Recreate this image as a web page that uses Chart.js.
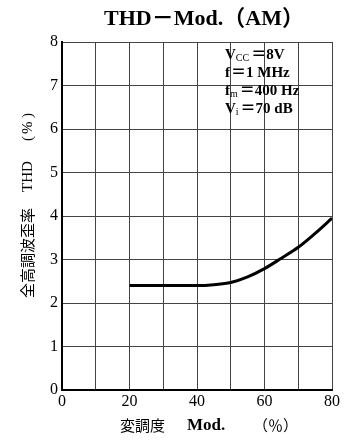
<!DOCTYPE html>
<html>
<head>
<meta charset="utf-8">
<script src="https://cdn.jsdelivr.net/npm/chart.js@4"></script>
<style>
  html, body { margin: 0; padding: 0; background: #fff; }
  #wrap { width: 353px; height: 440px; }
</style>
</head>
<body>
<div id="wrap"><canvas id="thdChart" width="353" height="440"></canvas></div>
<script>
// THD vs modulation depth (AM)
const modPercent = [20, 30, 40, 45, 50, 55, 60, 65, 70, 75, 80];
const thdPercent = [2.4, 2.4, 2.4, 2.42, 2.47, 2.6, 2.79, 3.03, 3.28, 3.6, 3.95];
const xTickLabels = [0, 20, 40, 60, 80];
const yTickLabels = [0, 1, 2, 3, 4, 5, 6, 7, 8];
const conditions = [
    { main: "V", sub: "CC", rest: "＝8V" },
    { main: "f", sub: "", rest: "＝1 MHz" },
    { main: "f", sub: "m", rest: "＝400 Hz" },
    { main: "V", sub: "i", rest: "＝70 dB" }
];

const serif = "'Liberation Serif', 'DejaVu Serif', 'Noto Sans CJK JP', serif";
const jp = "'Noto Sans CJK JP', sans-serif";

// title, axis titles and the condition text
const labelsPlugin = {
    id: 'labelsPlugin',
    afterDraw(chart) {
        const ctx = chart.ctx;
        const area = chart.chartArea;
        ctx.save();
        ctx.fillStyle = '#000';

        // main title
        ctx.textAlign = 'center';
        ctx.textBaseline = 'middle';
        ctx.font = "bold 22px " + serif;
        ctx.fillText('THD－Mod.（AM）', 204, 19);

        // x axis title
        ctx.textAlign = 'left';
        ctx.font = "15px " + jp;
        ctx.fillText('変調度', 120, 425);
        ctx.font = "bold 17px " + serif;
        ctx.fillText('Mod.', 187, 426);
        ctx.font = "15px " + jp;
        ctx.fillText('（％）', 253, 425);

        // y axis title
        ctx.save();
        ctx.translate(27, 205);
        ctx.rotate(-Math.PI / 2);
        ctx.textAlign = 'left';
        ctx.font = "15px " + jp;
        ctx.fillText('全高調波歪率', -93, 0);
        ctx.font = "15px " + serif;
        ctx.fillText('THD', 13, 1);
        ctx.fillText('(', 64, 1);
        ctx.fillText('%', 71, 1);
        ctx.fillText(')', 87, 1);
        ctx.restore();

        // conditions
        let x0 = area.left + 163;
        let y = area.top + 17;
        ctx.textBaseline = 'alphabetic';
        conditions.forEach(c => {
            let x = x0;
            ctx.font = "bold 15px " + serif;
            ctx.fillText(c.main, x, y);
            x += ctx.measureText(c.main).width;
            if (c.sub) {
                ctx.font = "10px " + serif;
                ctx.fillText(c.sub, x, y + 2);
                x += ctx.measureText(c.sub).width + 1;
            }
            ctx.font = "bold 15px " + serif;
            ctx.fillText(c.rest, x + 1, y);
            y += 18;
        });
        ctx.restore();
    }
};

new Chart(document.getElementById('thdChart').getContext('2d'), {
    type: 'line',
    data: {
        datasets: [{
            data: modPercent.map((m, i) => ({ x: m, y: thdPercent[i] })),
            borderColor: '#000',
            borderWidth: 3,
            pointRadius: 0,
            cubicInterpolationMode: 'monotone',
            fill: false
        }]
    },
    options: {
        responsive: false,
        animation: false,
        layout: { padding: { left: 0, right: 21, top: 42, bottom: 0 } },
        plugins: {
            legend: { display: false },
            tooltip: { enabled: false },
            title: { display: false }
        },
        scales: {
            x: {
                type: 'linear',
                min: 0,
                max: 80,
                afterFit: s => { s.height = 50; },
                afterBuildTicks: s => { s.ticks = [0,10,20,30,40,50,60,70,80].map(v => ({ value: v })); },
                ticks: {
                    color: '#000',
                    font: { family: serif, size: 16 },
                    padding: 2,
                    maxRotation: 0,
                    autoSkip: false,
                    callback: v => xTickLabels.includes(v) ? String(v) : ''
                },
                grid: { color: '#444', lineWidth: 1, drawTicks: false },
                border: { color: '#000', width: 2 }
            },
            y: {
                min: 0,
                max: 8,
                afterFit: s => { s.width = 62; },
                afterBuildTicks: s => { s.ticks = yTickLabels.map(v => ({ value: v })); },
                ticks: {
                    color: '#000',
                    font: { family: serif, size: 16 },
                    padding: 4
                },
                grid: { color: '#444', lineWidth: 1, drawTicks: false },
                border: { color: '#000', width: 2 }
            }
        }
    },
    plugins: [labelsPlugin]
});
</script>
</body>
</html>
